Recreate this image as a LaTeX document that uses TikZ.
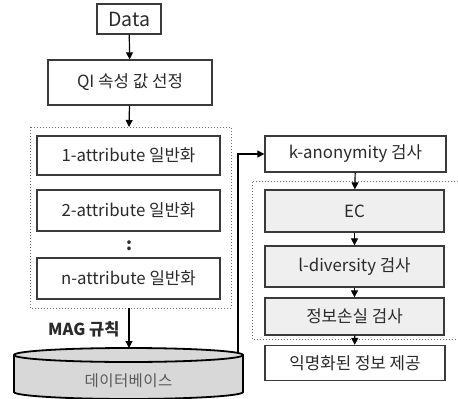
\documentclass[tikz,border=0pt]{standalone}
\usepackage{fontspec}
\setmainfont{Noto Sans CJK KR}
\usetikzlibrary{arrows.meta}
\definecolor{boxc}{HTML}{3A3A3A}
\definecolor{txtc}{HTML}{2A2A2A}
\definecolor{graybox}{HTML}{EFEFEF}
\definecolor{dbfill}{HTML}{D8D8D8}
\definecolor{dotc}{HTML}{707070}
\tikzset{
  box/.style={draw=boxc, line width=1.3pt, fill=white, inner sep=0pt, text=txtc,
    font=\fontsize{16.8}{18}\selectfont},
  gbox/.style={box, fill=graybox},
  arr/.style={-{Triangle[length=7pt,width=7pt]}, line width=1.2pt, black},
  grp/.style={draw=dotc, line width=1pt, dotted},
}
\begin{document}
\begin{tikzpicture}[x=1pt,y=-1pt]
\useasboundingbox (0,0) rectangle (458,399);
% left column
\node[box, minimum width=64pt, minimum height=30pt, font=\fontsize{19.5}{21}\selectfont] (data) at (129,19) {Data};
\node[box, minimum width=164pt, minimum height=45pt] (qi) at (130,82.5) {QI 속성 값 선정};
\draw[grp] (30,127) rectangle (231,308);
\coordinate (lgtop) at (129,127);
\coordinate (lgbot) at (129,308);
\node[box, minimum width=183pt, minimum height=39pt] (a1) at (128.5,155.5) {1-attribute 일반화};
\node[box, minimum width=183pt, minimum height=41pt] (a2) at (128.5,210.5) {2-attribute 일반화};
\node[text=txtc, font=\fontsize{17}{18}\selectfont\bfseries] (dots) at (129,246) {:};
\node[box, minimum width=183pt, minimum height=41pt] (an) at (128.5,278.5) {n-attribute 일반화};
\node[anchor=east, text=txtc, font=\fontsize{16.5}{18}\selectfont\bfseries] (mag) at (123,329) {MAG 규칙};
% database
\filldraw[fill=dbfill, draw=black, line width=1.8pt]
  (14,355) -- (14,392) arc[start angle=180, end angle=360, x radius=114.5pt, y radius=7pt]
  -- (243,355) arc[start angle=0, end angle=180, x radius=114.5pt, y radius=7pt] -- cycle;
\draw[black, line width=1.8pt] (14,355) arc[start angle=180, end angle=360, x radius=114.5pt, y radius=7pt];
\coordinate (dbtop) at (129,348);
\coordinate (dbr) at (238,353);
\node[text=black!65, font=\fontsize{15.5}{18}\selectfont\addfontfeatures{LetterSpace=3}] (db) at (128.5,381) {데이터베이스};
% right column
\node[box, minimum width=181pt, minimum height=36pt] (ka) at (355.5,154) {k-anonymity 검사};
\draw[grp] (458,181) -- (252,181) -- (252,339) -- (458,339);
\node[gbox, minimum width=179pt, minimum height=42pt] (ec) at (354.5,211) {EC};
\node[gbox, minimum width=179pt, minimum height=41pt] (ld) at (354.5,266.5) {l-diversity 검사};
\node[gbox, minimum width=179pt, minimum height=37pt] (il) at (354.5,316.5) {정보손실 검사};
\node[box, minimum width=180pt, minimum height=35pt] (out) at (355,363) {익명화된 정보 제공};
% connectors
\draw[arr] (data) -- (qi);
\draw[arr] (qi) -- (lgtop);
\draw[arr] (lgbot) -- (dbtop);
\draw[arr, line width=1.1pt] (dbr) |- (ka.west);
\draw[arr] (ka) -- (ec);
\draw[arr] (ec) -- (ld);
\draw[arr] (ld) -- (il);
\draw[arr] (il) -- (out);
\end{tikzpicture}
\end{document}
